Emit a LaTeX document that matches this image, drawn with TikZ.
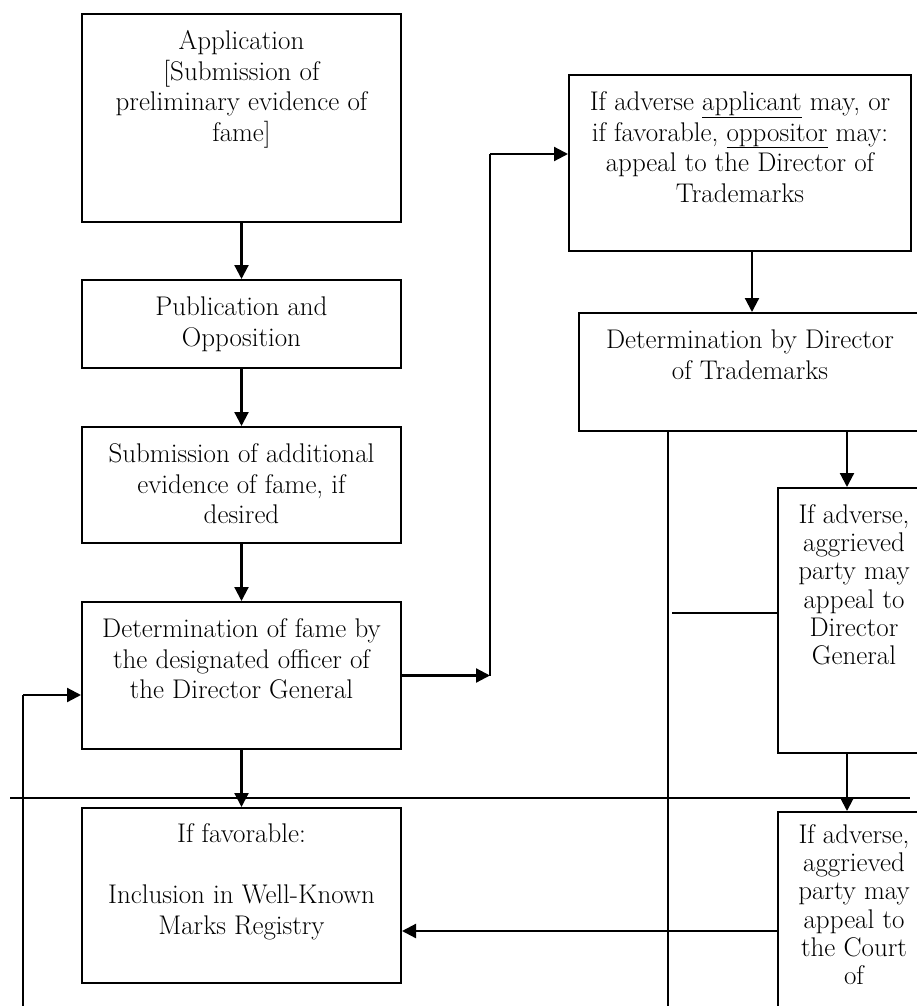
\documentclass[tikz,border=0pt]{standalone}
\usepackage{fontspec}
\usetikzlibrary{arrows.meta}
\newcommand{\fl}{\rule{0pt}{21pt}}
\begin{document}
\begin{tikzpicture}[x=1pt,y=-1pt,
  box/.style={draw,line width=2pt,inner sep=0pt},
  txt/.style={anchor=north,inner sep=0pt,align=center,font=\fontsize{27}{30.8}\selectfont},
  ntxt/.style={txt,font=\fontsize{27}{28.3}\selectfont},
  arr/.style={line width=2.2pt,-{Triangle[length=14pt,width=14pt]}},
  ln/.style={line width=2.2pt},
  thinln/.style={line width=1.7pt}]
\useasboundingbox (0,0) rectangle (917,1006);
\clip (0,0) rectangle (917,1006);
% boxes
\node[box,minimum width=319pt,minimum height=208pt] (b1) at (241.5,118) {};
\node[box,minimum width=319pt,minimum height=88pt]  (b2) at (241.5,324) {};
\node[box,minimum width=319pt,minimum height=116pt] (b3) at (241.5,485) {};
\node[box,minimum width=319pt,minimum height=147pt] (b4) at (241.5,675.5) {};
\node[box,minimum width=319pt,minimum height=175pt] (b5) at (241.5,895.5) {};
\node[box,minimum width=342pt,minimum height=176pt] (b6) at (740,163) {};
\node[box,minimum width=342pt,minimum height=118pt] (b7) at (750,372) {};
\node[box,minimum width=152pt,minimum height=265pt] (b8) at (854,620.5) {};
\node[box,minimum width=152pt,minimum height=268pt] (b9) at (854,946) {};
% texts
\node[txt] (t1) at (241.5,28) {\fl Application\\{}[Submission of\\preliminary evidence of\\fame]};
\node[txt] (t2) at (241.5,294) {\fl Publication and\\Opposition};
\node[txt] (t3) at (241.5,441) {\fl Submission of additional\\evidence of fame, if\\desired};
\node[txt] (t4) at (241.5,616) {\fl Determination of fame by\\the designated officer of\\the Director General};
\node[txt] (t5) at (241.5,821) {\fl If favorable:\\[30.5pt]Inclusion in Well-Known\\Marks Registry};
\node[txt] (t6) at (740,89) {\fl If adverse \underline{applicant} may, or\\if favorable, \underline{oppositor} may:\\appeal to the Director of\\Trademarks};
\node[txt] (t7) at (750,327) {\fl Determination by Director\\of Trademarks};
\node[ntxt] (t8) at (854,502) {\fl If adverse,\\aggrieved\\party may\\appeal to\\Director\\General};
\node[ntxt] (t9) at (854,822) {\fl If adverse,\\aggrieved\\party may\\appeal to\\the Court\\of};
% coordinates
\coordinate (c1) at (490,675.5);
\coordinate (c2) at (490,154);
\coordinate (x6) at (752,0);
\coordinate (x8) at (847,0);
\coordinate (v1) at (668,1006);
\coordinate (h1) at (672,613);
\coordinate (h2) at (668,931);
\coordinate (l1) at (23,1006);
\coordinate (l2) at (23,695);
\coordinate (d1) at (10,798);
\coordinate (d2) at (910,798);
% connectors
\draw[arr] (b1) -- (b2);
\draw[arr] (b2) -- (b3);
\draw[arr] (b3) -- (b4);
\draw[ln] (d1) -- (d2);
\draw[arr] (b4) -- (b5);
\draw[arr] (b4.east) -- (c1);
\draw[ln] (c1) -- (c2);
\draw[arr] (c2) -- (c2 -| b6.west);
\draw[arr] (b6.south -| x6) -- (b7.north -| x6);
\draw[arr] (b7.south -| x8) -- (b8.north -| x8);
\draw[arr] (b8.south -| x8) -- (b9.north -| x8);
\draw[thinln] (b7.south -| v1) -- (v1);
\draw[thinln] (h1) -- (h1 -| b8.west);
\draw[thinln] (b9.west |- h2) -- (h2);
\draw[arr] (h2) -- (b5.east |- h2);
\draw[thinln] (l1) -- (l2);
\draw[arr] (l2) -- (l2 -| b4.west);
\end{tikzpicture}
\end{document}
